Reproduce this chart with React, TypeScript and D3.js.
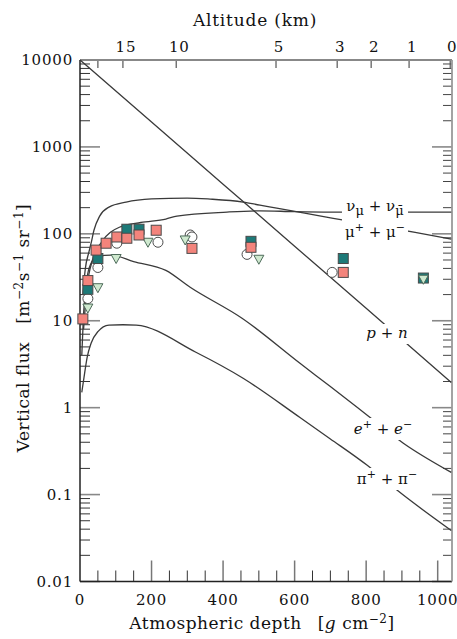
import React, { useEffect, useRef } from "react";
import * as d3 from "d3";

const W = 457;
const H = 639;

// Axis ticks / labels
const depthMajorTicks = [0, 200, 400, 600, 800, 1000];
const depthTickLabels = ["0", "200", "400", "600", "800", "1000"];
const fluxTickValues = [0.01, 0.1, 1, 10, 100, 1000, 10000];
const fluxTickLabels = ["0.01", "0.1", "1", "10", "100", "1000", "10000"];
const altitudeLabels = ["", "15", "10", "5", "3", "2", "1", "0"];
const altitudeDepths = [50, 120, 269, 548, 719, 814, 920, 1035];

// Curves (depth g/cm^2, vertical flux)
const pnDepth = [0, 200, 400, 600, 800, 1038];
const pnFlux = [10000, 1930, 373, 72, 13.9, 1.95];

const muDepth = [8, 15, 25, 31, 39, 55, 81, 129, 200, 300, 364, 456, 503, 550, 708, 850, 937, 1038];
const muFlux = [20, 40, 62, 78, 110, 160, 203, 232, 252, 258, 251, 232, 214, 198, 151, 120, 104, 87];

const nuDepth = [10, 20, 35, 60, 110, 170, 240, 271, 411, 503, 600, 700, 850, 1038];
const nuFlux = [8, 25, 50, 80, 119, 135, 148, 160, 178, 184, 180, 178, 178, 178];

const eDepth = [5, 10, 18, 30, 50, 87, 150, 240, 308, 453, 615, 699, 803, 904, 1038];
const eFlux = [4, 12, 28, 45, 55, 57, 48, 38, 24.3, 10.7, 3.24, 1.76, 0.82, 0.39, 0.18];

const piDepth = [5, 11, 20, 31, 50, 81, 120, 157, 324, 456, 615, 699, 803, 887, 1038];
const piFlux = [1.5, 2.2, 3.8, 5.5, 7.5, 8.9, 9.0, 8.9, 4.34, 2.18, 0.77, 0.44, 0.217, 0.112, 0.0386];

// Measurements
const salmonDepth = [8, 22, 45, 73, 103, 131, 165, 213, 313, 478, 736];
const salmonFlux = [10.5, 29, 65, 78, 92, 89, 97, 110, 68, 70, 36];
const tealDepth = [22, 50, 131, 165, 478, 736, 960];
const tealFlux = [23, 52, 113, 113, 82, 52, 31];
const circleDepth = [22, 50, 103, 218, 308, 313, 467, 705];
const circleFlux = [18, 41, 78, 80, 97, 92, 58, 36];
const triDepth = [22, 50, 101, 190, 294, 500, 960];
const triFlux = [14, 24, 52, 80, 85, 51, 30];

const FONT = "DejaVu Serif";

export default function App() {
  const ref = useRef<SVGSVGElement>(null);
  useEffect(() => {
    const svg = d3.select(ref.current);
    svg.selectAll("*").remove();
    const L = 80, R = 452, T = 60, B = 581.5;
    const x = d3.scaleLinear().domain([0, 1040]).range([L, R]);
    const y = d3.scaleLog().domain([0.01, 10000]).range([B, T]);

    svg.append("rect").attr("width", W).attr("height", H).attr("fill", "white");

    const g = svg.append("g");

    // ticks left/right
    for (let k = -2; k <= 3; k++) {
      for (let mm = 2; mm <= 9; mm++) {
        const yy = y(mm * Math.pow(10, k));
        g.append("line").attr("x1", L).attr("x2", L + 10).attr("y1", yy).attr("y2", yy).attr("stroke", "#333").attr("stroke-width", 1);
        g.append("line").attr("x1", R).attr("x2", R - 9).attr("y1", yy).attr("y2", yy).attr("stroke", "#444").attr("stroke-width", 1);
      }
    }
    fluxTickValues.forEach((v) => {
      const yy = y(v);
      g.append("line").attr("x1", L).attr("x2", L + 20).attr("y1", yy).attr("y2", yy).attr("stroke", "#888").attr("stroke-width", 1.6);
      g.append("line").attr("x1", R).attr("x2", R - 20).attr("y1", yy).attr("y2", yy).attr("stroke", "#888").attr("stroke-width", 1.6);
    });
    // bottom ticks
    d3.range(50, 1040, 50).forEach((d) => {
      const major = depthMajorTicks.includes(d);
      g.append("line").attr("x1", x(d)).attr("x2", x(d)).attr("y1", B).attr("y2", B - (major ? 21 : 11))
        .attr("stroke", major ? "#777" : "#333").attr("stroke-width", major ? 1.5 : 1);
    });
    // top ticks
    altitudeDepths.forEach((d) => {
      g.append("line").attr("x1", x(d)).attr("x2", x(d)).attr("y1", T).attr("y2", T + 8).attr("stroke", "#555").attr("stroke-width", 1.2);
    });

    // frame
    g.append("line").attr("x1", L).attr("x2", R).attr("y1", T).attr("y2", T).attr("stroke", "#888").attr("stroke-width", 2);
    g.append("line").attr("x1", L).attr("x2", R).attr("y1", B).attr("y2", B).attr("stroke", "#222").attr("stroke-width", 1.5);
    g.append("line").attr("x1", L).attr("x2", L).attr("y1", T).attr("y2", B).attr("stroke", "#222").attr("stroke-width", 1.5);
    g.append("line").attr("x1", R).attr("x2", R).attr("y1", T).attr("y2", B).attr("stroke", "#999").attr("stroke-width", 1.8);

    // curves
    const line = d3.line<[number, number]>().x((p) => x(p[0])).y((p) => y(p[1])).curve(d3.curveMonotoneX);
    const curves: [number[], number[]][] = [
      [pnDepth, pnFlux], [muDepth, muFlux], [nuDepth, nuFlux], [eDepth, eFlux], [piDepth, piFlux],
    ];
    const cg = svg.append("g");
    curves.forEach(([ds, fs]) => {
      const pts = ds.map((d, i) => [d, fs[i]] as [number, number]);
      cg.append("path").attr("d", line(pts)).attr("fill", "none").attr("stroke", "#3a3a3a").attr("stroke-width", 1.3);
    });

    // labels with white backgrounds
    const lg = svg.append("g").attr("font-family", FONT).attr("fill", "#111");
    const bgG = lg.append("g");
    const txG = lg.append("g");
    const addLabel = (cx: number, cy: number, parts: { t: string; dy?: number; size?: number; italic?: boolean }[]) => {
      const t = txG.append("text").attr("x", cx).attr("y", cy).attr("text-anchor", "middle").attr("font-size", 15);
      parts.forEach((p) => {
        const ts = t.append("tspan").text(p.t);
        if (p.dy) ts.attr("dy", p.dy);
        if (p.size) ts.attr("font-size", p.size);
        if (p.italic) ts.attr("font-style", "italic");
      });
      return t;
    };
    const nuT = addLabel(375, 211, [
      { t: "ν" }, { t: "μ", dy: 4, size: 13 }, { t: " + ν", dy: -4 }, { t: "μ\u0304", dy: 4, size: 13 },
    ]);
    const muT = addLabel(375, 237, [
      { t: "μ" }, { t: "+", dy: -6, size: 11 }, { t: " + μ", dy: 6 }, { t: "−", dy: -6, size: 11 },
    ]);
    const pnT = addLabel(387, 338, [{ t: "p", italic: true }, { t: " + " }, { t: "n", italic: true }]);
    const eT = addLabel(383, 434, [
      { t: "e", italic: true }, { t: "+", dy: -6, size: 11 }, { t: " + ", dy: 6 }, { t: "e", italic: true }, { t: "−", dy: -6, size: 11 },
    ]);
    const piT = addLabel(387, 484, [
      { t: "π" }, { t: "+", dy: -6, size: 11 }, { t: " + π", dy: 6 }, { t: "−", dy: -6, size: 11 },
    ]);
    const bb = (n: any) => (n.node() as SVGTextElement).getBBox();
    const a = bb(nuT), b = bb(muT);
    const x0 = Math.min(a.x, b.x) - 3, x1 = Math.max(a.x + a.width, b.x + b.width) + 3;
    bgG.append("rect").attr("x", x0).attr("y", a.y - 1).attr("width", x1 - x0).attr("height", b.y + b.height - a.y + 2).attr("fill", "white");
    [pnT, eT, piT].forEach((t) => {
      const r = bb(t);
      bgG.append("rect").attr("x", r.x - 3).attr("y", r.y).attr("width", r.width + 6).attr("height", r.height + 2).attr("fill", "white");
    });

    // markers
    const mg = svg.append("g").attr("stroke", "#4a4a4a").attr("stroke-width", 1);
    circleDepth.forEach((d, i) => {
      mg.append("circle").attr("cx", x(d)).attr("cy", y(circleFlux[i])).attr("r", 5).attr("fill", "white");
    });
    tealDepth.forEach((d, i) => {
      mg.append("rect").attr("x", x(d) - 5).attr("y", y(tealFlux[i]) - 5).attr("width", 10).attr("height", 10).attr("fill", "#1d7a78");
    });
    triDepth.forEach((d, i) => {
      const cx = x(d), cy = y(triFlux[i]);
      mg.append("path").attr("d", `M${cx - 5},${cy - 4}L${cx + 5},${cy - 4}L${cx},${cy + 5}Z`).attr("fill", "#cfe9cf").attr("stroke", "#4d6b5a");
    });
    salmonDepth.forEach((d, i) => {
      mg.append("rect").attr("x", x(d) - 5).attr("y", y(salmonFlux[i]) - 5).attr("width", 10).attr("height", 10).attr("fill", "#f3847c");
    });

    // axis text
    const tg = svg.append("g").attr("font-family", FONT).attr("fill", "#111");
    fluxTickValues.forEach((v, i) => {
      tg.append("text").attr("x", 73).attr("y", y(v) + 5).attr("text-anchor", "end").attr("font-size", 15)
        .attr("letter-spacing", 0.8).text(fluxTickLabels[i]);
    });
    depthMajorTicks.forEach((d, i) => {
      tg.append("text").attr("x", x(d)).attr("y", 605).attr("text-anchor", "middle").attr("font-size", 15)
        .attr("letter-spacing", 0.8).text(depthTickLabels[i]);
    });
    altitudeDepths.forEach((d, i) => {
      if (!altitudeLabels[i]) return;
      tg.append("text").attr("x", x(d) + (i === altitudeDepths.length - 1 ? 2 : 3)).attr("y", 52).attr("text-anchor", "middle").attr("font-size", 15)
        .attr("letter-spacing", 0.8).text(altitudeLabels[i]);
    });
    tg.append("text").attr("x", 255).attr("y", 26).attr("text-anchor", "middle").attr("font-size", 17)
      .attr("letter-spacing", 0.8).text("Altitude (km)");
    const xt = tg.append("text").attr("x", 262).attr("y", 629).attr("text-anchor", "middle").attr("font-size", 17).attr("letter-spacing", 0.5);
    xt.append("tspan").text("Atmospheric depth");
    xt.append("tspan").attr("dx", 16).text("[");
    xt.append("tspan").attr("font-style", "italic").text("g");
    xt.append("tspan").text(" cm");
    xt.append("tspan").attr("dy", -6).attr("font-size", 12).text("−2");
    xt.append("tspan").attr("dy", 6).text("]");

    const yt = tg.append("text").attr("transform", "translate(29,328) rotate(-90)").attr("text-anchor", "middle").attr("font-size", 17).attr("letter-spacing", 0.5);
    yt.append("tspan").text("Vertical flux");
    yt.append("tspan").attr("dx", 18).text("[m");
    yt.append("tspan").attr("dy", -6).attr("font-size", 12).text("−2");
    yt.append("tspan").attr("dy", 6).text("s");
    yt.append("tspan").attr("dy", -6).attr("font-size", 12).text("−1");
    yt.append("tspan").attr("dy", 6).text(" sr");
    yt.append("tspan").attr("dy", -6).attr("font-size", 12).text("−1");
    yt.append("tspan").attr("dy", 6).text("]");
  }, []);
  return <svg ref={ref} width={W} height={H} style={{ position: "absolute", left: 0, top: 0 }} />;
}
